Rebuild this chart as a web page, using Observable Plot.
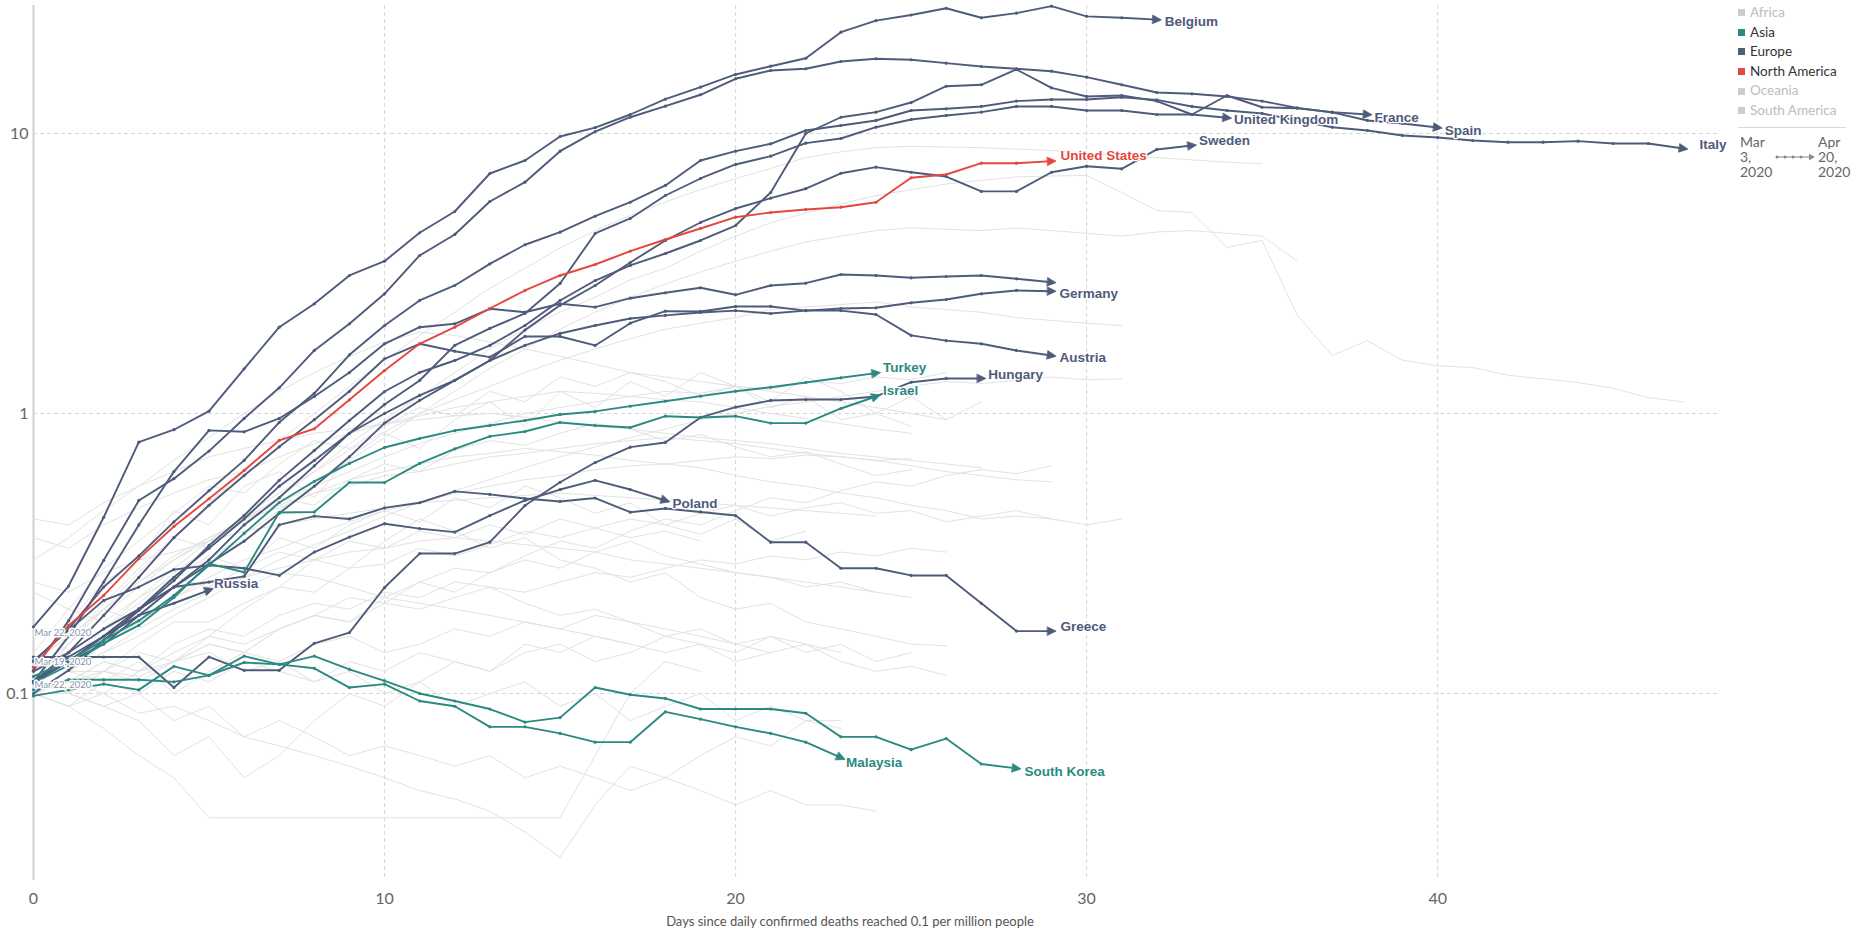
<!DOCTYPE html>
<html><head><meta charset="utf-8">
<script src="https://cdn.jsdelivr.net/npm/d3@7"></script>
<script src="https://cdn.jsdelivr.net/npm/@observablehq/plot@0.6"></script>
<style>
html,body{margin:0;padding:0;background:#fff;overflow:hidden}
#wrap{position:relative;width:1856px;height:936px;font-family:Lato,"Open Sans",sans-serif}
#legend{position:absolute;left:1738px;top:3px;font-size:13.5px;line-height:19.6px}
#legend .it{display:flex;align-items:center;white-space:nowrap}
#legend .sw{width:7px;height:7px;margin-right:5px;display:inline-block}
#sep{position:absolute;left:1738px;top:127px;width:108px;height:1px;background:#d8d8d8}
.dt{position:absolute;top:134px;font-size:14px;line-height:15px;color:#666}
#xtitle{position:absolute;left:600px;width:500px;top:913px;text-align:center;font-size:13px;color:#555}
</style></head>
<body><div id="wrap"></div>
<script>
// ---- data: days since 0.1 daily deaths per million, value = daily deaths per million ----
const belgium = [0.173,0.242,0.426,0.790,0.875,1.019,1.444,2.033,2.465,3.111,3.499,4.420,5.265,7.197,8.008,9.757,10.50,11.69,13.26,14.64,16.25,17.39,18.57,23.0,25.3,26.5,28.0,25.9,26.9,28.5,26.2,25.9,25.5];
const spain = [0.121,0.182,0.299,0.489,0.585,0.734,0.960,1.235,1.679,2.091,2.676,3.667,4.359,5.717,6.701,8.646,10.16,11.43,12.52,13.75,15.68,16.79,17.03,18.08,18.49,18.34,17.83,17.35,17.03,16.69,15.89,14.93,14.01,13.86,13.56,13.05,12.35,11.89,11.13,10.86,10.50];
const france = [0.100,0.121,0.155,0.198,0.253,0.338,0.432,0.577,0.738,0.944,1.198,1.401,1.546,1.750,2.062,2.533,2.985,3.378,3.727,4.148,4.692,6.155,10.0,11.43,11.92,12.90,14.75,14.93,16.93,14.56,13.56,13.67,13.05,11.69,13.67,12.41,12.31,11.92,11.69];
const italy = [0.13,0.17,0.24,0.31,0.41,0.53,0.68,0.93,1.18,1.62,2.062,2.533,2.865,3.424,4.005,4.441,5.064,5.682,6.522,8.008,8.646,9.189,10.25,10.68,11.13,12.08,12.25,12.49,13.05,13.22,13.22,13.48,13.18,12.49,12.08,11.79,11.13,10.53,10.25,9.84,9.676,9.441,9.310,9.310,9.39,9.211,9.211,8.84];
const unitedKingdom = [0.11,0.13,0.15,0.19,0.24,0.30,0.40,0.50,0.65,0.85,1.077,1.312,1.750,2.012,2.276,2.913,4.394,4.972,6.006,6.907,7.75,8.297,9.235,9.597,10.53,11.22,11.60,11.92,12.49,12.49,12.08,12.08,11.69,11.69,11.38];
const sweden = [0.11,0.13,0.16,0.20,0.24,0.29,0.35,0.44,0.55,0.70,0.924,1.113,1.313,1.546,1.985,2.434,2.865,3.462,4.148,4.810,5.396,5.873,6.35,7.21,7.58,7.27,7.02,6.21,6.21,7.27,7.64,7.48,8.77,9.06];
const germany = [0.11,0.13,0.16,0.20,0.26,0.33,0.42,0.55,0.68,0.85,1.0,1.160,1.313,1.546,1.750,1.931,2.062,2.184,2.24,2.295,2.331,2.276,2.331,2.371,2.385,2.485,2.553,2.676,2.750,2.734];
const switzerland = [0.11,0.16,0.25,0.40,0.62,0.87,0.86,0.96,1.15,1.40,1.774,2.033,2.091,2.365,2.300,2.465,2.397,2.581,2.698,2.811,2.654,2.865,2.920,3.136,3.111,3.052,3.085,3.111,3.027,2.943];
const austria = [0.11,0.14,0.19,0.26,0.36,0.47,0.60,0.76,0.95,1.20,1.568,1.774,1.669,1.589,1.884,1.884,1.750,2.101,2.319,2.314,2.411,2.411,2.331,2.331,2.257,1.90,1.82,1.774,1.679,1.611];
const hungary = [0.135,0.135,0.135,0.135,0.105,0.135,0.121,0.121,0.151,0.165,0.239,0.316,0.316,0.347,0.469,0.568,0.668,0.758,0.788,0.968,1.053,1.113,1.122,1.122,1.150,1.293,1.334,1.334];
const poland = [0.131,0.168,0.215,0.240,0.277,0.287,0.280,0.264,0.320,0.362,0.404,0.388,0.377,0.432,0.489,0.535,0.577,0.535,0.489];
const greece = [0.120,0.140,0.170,0.200,0.240,0.250,0.262,0.400,0.430,0.420,0.460,0.480,0.527,0.514,0.497,0.485,0.499,0.444,0.458,0.445,0.432,0.347,0.347,0.280,0.280,0.264,0.264,0.210,0.167,0.167];
const russia = [0.11,0.135,0.16,0.19,0.21,0.234];
const turkey = [0.115,0.131,0.155,0.182,0.224,0.287,0.373,0.481,0.572,0.663,0.756,0.814,0.869,0.906,0.944,0.992,1.017,1.062,1.106,1.153,1.201,1.241,1.290,1.341,1.393];
const israel = [0.109,0.126,0.151,0.175,0.220,0.291,0.271,0.443,0.445,0.567,0.567,0.663,0.748,0.828,0.862,0.929,0.906,0.891,0.978,0.968,0.978,0.924,0.924,1.042,1.150];
const malaysia = [0.098,0.103,0.108,0.103,0.125,0.116,0.129,0.127,0.123,0.105,0.108,0.094,0.090,0.076,0.076,0.072,0.067,0.067,0.086,0.081,0.076,0.072,0.067,0.059];
const southKorea = [0.103,0.112,0.112,0.112,0.110,0.116,0.136,0.127,0.136,0.122,0.111,0.100,0.094,0.088,0.079,0.082,0.105,0.099,0.096,0.088,0.088,0.088,0.085,0.070,0.070,0.063,0.069,0.056,0.054];
const unitedStates = [0.124,0.175,0.224,0.303,0.395,0.496,0.626,0.801,0.882,1.119,1.424,1.774,2.033,2.371,2.750,3.111,3.405,3.799,4.182,4.579,5.024,5.222,5.352,5.454,5.682,6.947,7.138,7.833,7.833,7.964];

const hiNames = ["Belgium","Spain","France","Italy","United Kingdom","Sweden","Germany","Switzerland","Austria","Hungary","Poland","Greece","Russia","Turkey","Israel","Malaysia","South Korea","United States"];
const hiContinents = ["Europe","Europe","Europe","Europe","Europe","Europe","Europe","Europe","Europe","Europe","Europe","Europe","Europe","Asia","Asia","Asia","Asia","North America"];
const hiSeries = [belgium,spain,france,italy,unitedKingdom,sweden,germany,switzerland,austria,hungary,poland,greece,russia,turkey,israel,malaysia,southKorea,unitedStates];

// other (not highlighted) countries
const netherlands = [0.12,0.15,0.20,0.27,0.36,0.48,0.62,0.80,1.0,1.25,1.55,1.9,2.3,2.8,3.3,3.9,4.5,5.1,5.7,6.3,6.9,7.5,8.2,8.6,8.9,9.0,8.95,8.9,8.8,8.7,8.5,8.35,8.2,8.05,7.9,7.8];
const ireland = [0.11,0.14,0.17,0.21,0.27,0.33,0.42,0.50,0.62,0.78,0.95,1.15,1.4,1.7,2.0,2.3,2.6,3.0,3.3,3.8,4.3,4.8,5.2,5.6,6.0,6.3,6.6,6.8,7.0,7.05,7.08,6.16,5.31,5.22,3.92,4.15,2.24,1.61,1.82,1.55,1.48,1.46,1.37,1.33,1.29,1.23,1.14,1.10];
const portugal = [0.10,0.12,0.15,0.19,0.24,0.30,0.37,0.45,0.55,0.68,0.82,1.0,1.2,1.45,1.7,2.0,2.3,2.6,2.9,3.2,3.5,3.8,4.1,4.3,4.5,4.6,4.55,4.5,4.6,4.5,4.4,4.3,4.45,4.5,4.4,4.3,3.5];
const denmark = [0.11,0.13,0.17,0.22,0.28,0.35,0.43,0.52,0.62,0.74,0.86,1.0,1.12,1.25,1.4,1.55,1.7,1.85,2.0,2.1,2.2,2.35,2.4,2.45,2.5,2.4,2.35,2.3,2.2,2.15,2.1,2.06];
const canada = [0.10,0.12,0.14,0.16,0.19,0.22,0.26,0.30,0.34,0.38,0.43,0.48,0.53,0.58,0.64,0.70,0.76,0.82,0.88,0.95,1.0,1.06,1.1,1.15,1.2,1.25,1.3,1.28,1.31,1.35,1.32,1.33];
const romania = [0.10,0.12,0.12,0.15,0.18,0.18,0.21,0.24,0.23,0.28,0.29,0.33,0.31,0.34,0.38,0.36,0.39,0.42,0.40,0.44,0.47,0.43,0.46,0.48,0.44,0.45,0.41,0.43,0.45,0.42,0.40,0.42];
const brazil = [0.10,0.11,0.13,0.12,0.15,0.17,0.16,0.19,0.21,0.20,0.23,0.22,0.25,0.24,0.21,0.19,0.20,0.18,0.17,0.16,0.15,0.14,0.15,0.13,0.12,0.125,0.116];
const ecuador = [0.11,0.10,0.12,0.14,0.13,0.16,0.20,0.24,0.30,0.28,0.35,0.42,0.38,0.33,0.36,0.30,0.28,0.25,0.27,0.22,0.20,0.21,0.18,0.17,0.16,0.15,0.148];
const peru = [0.10,0.10,0.12,0.11,0.13,0.15,0.14,0.17,0.19,0.18,0.22,0.25,0.23,0.27,0.30,0.28,0.32,0.35,0.31,0.29,0.27,0.26,0.24,0.25,0.23,0.22];
const algeria = [0.10,0.09,0.075,0.06,0.05,0.036,0.036,0.036,0.036,0.036,0.036,0.036,0.036,0.036,0.036,0.036,0.06,0.10,0.13,0.12];
const mexico = [0.10,0.11,0.10,0.12,0.13,0.15,0.14,0.17,0.19,0.22,0.21,0.25,0.28,0.27,0.31,0.35,0.33,0.38,0.42,0.40,0.45,0.50,0.48,0.53,0.57,0.55,0.60,0.63,0.61,0.65];
const panama = [0.12,0.18,0.25,0.30,0.45,0.40,0.55,0.62,0.50,0.70,0.85,0.75,0.95,1.1,0.9,1.2,1.05,1.3,1.15,1.4,1.25,1.1,1.35,1.2,1.0,1.15,0.95,1.1];
const dominicanRepublic = [0.11,0.15,0.21,0.28,0.36,0.33,0.42,0.50,0.47,0.58,0.66,0.62,0.74,0.80,0.77,0.85,0.92,0.88,0.80,0.84,0.76,0.70,0.73,0.66,0.60,0.63];
const iran = [0.13,0.16,0.20,0.25,0.31,0.36,0.42,0.46,0.52,0.55,0.60,0.62,0.66,0.70,0.72,0.75,0.78,0.80,0.82,0.80,0.78,0.75,0.72,0.70,0.68,0.65,0.62,0.60,0.58,0.57];
const indonesia = [0.10,0.09,0.11,0.10,0.12,0.11,0.13,0.12,0.11,0.13,0.12,0.14,0.13,0.12,0.14,0.15,0.13,0.14,0.16,0.15,0.14,0.16,0.15,0.14];
const philippines = [0.10,0.12,0.11,0.13,0.10,0.12,0.14,0.13,0.11,0.12,0.10,0.11,0.09,0.10,0.11,0.09,0.10,0.08,0.09,0.10,0.08,0.09,0.08,0.08];
const norway = [0.11,0.14,0.19,0.24,0.30,0.36,0.41,0.47,0.52,0.58,0.62,0.66,0.70,0.72,0.75,0.73,0.71,0.68,0.66,0.64,0.60,0.57,0.55,0.52,0.50,0.47,0.45,0.42,0.43,0.42];
const finland = [0.10,0.12,0.15,0.18,0.22,0.26,0.30,0.33,0.37,0.41,0.45,0.48,0.52,0.55,0.58,0.60,0.63,0.65,0.66,0.68,0.70,0.69,0.71,0.70,0.68,0.69];
const czechia = [0.10,0.12,0.14,0.17,0.20,0.23,0.26,0.28,0.30,0.32,0.33,0.35,0.36,0.35,0.34,0.33,0.32,0.30,0.29,0.28,0.27,0.26,0.25,0.24,0.23];
const luxembourg = [0.30,0.36,0.45,0.55,0.68,0.82,1.0,1.2,1.4,1.6,1.8,1.95,1.9,1.8,1.7,1.6,1.5,1.4,1.35,1.3,1.25,1.2,1.15,1.1,1.05,1.0,0.95];
const slovenia = [0.42,0.40,0.48,0.55,0.62,0.70,0.75,0.80,0.85,0.88,0.92,0.95,0.98,1.0,0.97,0.93,0.90,0.88,0.85,0.82,0.80,0.78,0.75,0.72,0.70,0.68,0.66,0.64];
const estonia = [0.36,0.33,0.40,0.46,0.52,0.58,0.62,0.70,0.78,0.85,0.92,0.98,1.05,1.1,1.15,1.2,1.18,1.15,1.12,1.1,1.05,1.0,0.96,0.92,0.88,0.85];
const serbia = [0.25,0.23,0.27,0.30,0.32,0.35,0.38,0.40,0.42,0.44,0.46,0.48,0.49,0.50,0.51,0.52,0.51,0.50,0.49,0.48,0.47,0.46,0.45,0.44,0.43];
const croatia = [0.23,0.20,0.18,0.22,0.26,0.24,0.28,0.32,0.30,0.35,0.33,0.38,0.36,0.40,0.37,0.42,0.39,0.36,0.38,0.35];
const bulgaria = [0.11,0.10,0.09,0.08,0.06,0.07,0.05,0.06,0.08,0.10,0.09,0.11,0.13,0.12,0.15,0.14,0.16,0.15];
const egypt = [0.10,0.09,0.10,0.085,0.09,0.08,0.07,0.065,0.06,0.055,0.05,0.045,0.042,0.038,0.032,0.026,0.04,0.055,0.05,0.06,0.07,0.065,0.08,0.075];
const southAfrica = [0.10,0.11,0.12,0.115,0.13,0.14,0.12,0.13,0.15,0.16,0.14,0.15,0.17,0.16,0.18,0.17,0.19,0.18,0.16,0.17,0.15,0.16,0.14,0.15,0.13,0.14];
const australia = [0.11,0.10,0.09,0.10,0.08,0.09,0.07,0.08,0.07,0.06,0.065,0.06,0.055,0.06,0.05,0.055,0.05,0.045,0.05,0.045,0.04,0.045,0.04,0.04,0.038];
const chile = [0.10,0.11,0.13,0.12,0.14,0.16,0.15,0.17,0.19,0.18,0.21,0.20,0.22,0.24,0.23,0.25,0.27,0.26,0.28,0.30,0.29,0.31,0.30,0.32,0.31,0.33,0.32];
const morocco = [0.11,0.13,0.16,0.18,0.22,0.25,0.24,0.27,0.26,0.24,0.22,0.21,0.20,0.19,0.18,0.17,0.16,0.15,0.14,0.15,0.13,0.14];
const lithuania = [0.10,0.15,0.20,0.18,0.26,0.31,0.28,0.36,0.33,0.40,0.45,0.41,0.50,0.46,0.55,0.50,0.44,0.48,0.40,0.37,0.42,0.35,0.38];
const moldova = [0.13,0.16,0.20,0.25,0.30,0.35,0.42,0.48,0.55,0.62,0.70,0.78,0.85,0.92,1.0,1.05,1.1,1.15,1.2,1.18,1.25,1.22,1.3,1.28,1.35,1.32,1.4];
const northMacedonia = [0.14,0.20,0.28,0.35,0.44,0.55,0.52,0.66,0.80,0.75,0.90,1.05,0.98,1.2,1.1,1.35,1.25,1.4,1.3,1.15,1.25,1.05,1.15,0.95,1.0,0.9];

const otherNames = ["Netherlands","Ireland","Portugal","Denmark","Canada","Romania","Brazil","Ecuador","Peru","Algeria","Mexico","Panama","Dominican Republic","Iran","Indonesia","Philippines","Norway","Finland","Czechia","Luxembourg","Slovenia","Estonia","Serbia","Croatia","Bulgaria","Egypt","South Africa","Australia","Chile","Morocco","Lithuania","Moldova","North Macedonia"];
const otherSeries = [netherlands,ireland,portugal,denmark,canada,romania,brazil,ecuador,peru,algeria,mexico,panama,dominicanRepublic,iran,indonesia,philippines,norway,finland,czechia,luxembourg,slovenia,estonia,serbia,croatia,bulgaria,egypt,southAfrica,australia,chile,morocco,lithuania,moldova,northMacedonia];

const continentNames = ["Africa","Asia","Europe","North America","Oceania","South America"];
const continentActive = [false,true,true,true,false,false];
const continentColors = ["#cccccc","#2b8a80","#4e5b7b","#e4473f","#cccccc","#cccccc"];

const yTicks = [0.1, 1, 10];
const xTicks = [0, 10, 20, 30, 40];

// start-date annotations on the y axis
const startLabels = ["Mar 22, 2020","Mar 19, 2020","Mar 22, 2020"];
const startLabelValues = [0.165, 0.130, 0.107];

// end labels: which countries get a visible label
const labelCountries = ["Belgium","United Kingdom","France","Spain","Italy","Sweden","United States","Germany","Austria","Hungary","Turkey","Israel","Poland","Greece","Malaysia","South Korea","Russia"];

// ---- build tables ----
const colorOf = c => continentColors[continentNames.indexOf(c)];
const hiRows = hiNames.flatMap((name, i) => hiSeries[i].map((v, d) => ({country: name, day: d, value: v, color: colorOf(hiContinents[i])})));
const otherRows = otherNames.flatMap((name, i) => otherSeries[i].map((v, d) => ({country: name, day: d, value: v})));
const lastRow = name => { const i = hiNames.indexOf(name); const s = hiSeries[i]; return {country: name, day: s.length - 1, value: s[s.length - 1], color: colorOf(hiContinents[i])}; };

// label offsets (px), tuned to the layout
const labelOffset = {
  "Belgium":[8,2], "United Kingdom":[7,2], "France":[7,3], "Spain":[7,3], "Italy":[16,-4],
  "Sweden":[7,-5], "United States":[9,-6], "Germany":[8,2], "Austria":[8,2], "Hungary":[7,-4],
  "Turkey":[7,-6], "Israel":[7,-6], "Poland":[7,3], "Greece":[9,-4], "Malaysia":[5,5],
  "South Korea":[8,3], "Russia":[5,-6]
};

const layer = ["Switzerland","Sweden","Austria","Germany","Hungary","Poland","Greece","Russia","Belgium","Spain","France","Italy","United Kingdom","Turkey","Israel","Malaysia","South Korea","United States"];
const orderedHi = layer.flatMap(n => hiRows.filter(r => r.country === n));

const labelMarks = labelCountries.map(n => {
  const r = lastRow(n); const [dx, dy] = labelOffset[n];
  return Plot.text([r], {x: "day", y: "value", text: d => d.country, dx, dy, fill: r.color,
    textAnchor: "start", fontSize: 13.5, fontWeight: "bold", fontFamily: "'Liberation Sans', Arial, sans-serif",
    stroke: "white", strokeWidth: 2.5, paintOrder: "stroke"});
});

const startRows = startLabels.map((t, i) => ({text: t, value: startLabelValues[i]}));

const svg = Plot.plot({
  width: 1856, height: 936,
  marginLeft: 33, marginRight: 138, marginTop: 5, marginBottom: 56,
  style: {fontFamily: "Lato, sans-serif", fontSize: "16px", color: "#666", background: "white"},
  x: {domain: [0, 48]},
  y: {type: "log", domain: [0.02148, 28.65]},
  color: {type: "identity"},
  marks: [
    Plot.ruleY(yTicks, {stroke: "#d6d6d6", strokeDasharray: "4,3"}),
    Plot.ruleX(xTicks.filter(t => t > 0), {stroke: "#d6d6d6", strokeDasharray: "4,3"}),
    Plot.ruleX([0], {stroke: "#d0d0d0", strokeWidth: 2}),
    Plot.axisY(yTicks, {tickSize: 0, tickPadding: 5, tickFormat: d => String(d), label: null, fontSize: 16}),
    Plot.axisX(xTicks, {tickSize: 0, tickPadding: 12, label: null, fontSize: 16}),
    Plot.line(otherRows, {x: "day", y: "value", z: "country", stroke: "#e2e2e2", strokeWidth: 1}),
    Plot.line(orderedHi, {x: "day", y: "value", z: "country", stroke: "color", strokeWidth: 1.9, markerEnd: "arrow"}),
    Plot.dot(orderedHi, {x: "day", y: "value", r: 1.6, fill: "color"}),
    Plot.text(startRows, {x: () => 0, y: "value", text: "text", textAnchor: "start", dx: 1, fontSize: 9.5,
      fill: "#8a93aa", stroke: "white", strokeWidth: 3, paintOrder: "stroke"}),
    ...labelMarks
  ]
});

// filled triangle arrowheads
svg.querySelectorAll("marker").forEach(m => {
  const c = m.getAttribute("stroke");
  m.setAttribute("fill", c);
  m.setAttribute("stroke-width", "0.6");
  const p = m.querySelector("path");
  if (p) p.setAttribute("d", "M-3.2,-3.3L3.6,0L-3.2,3.3Z");
});

const wrap = document.getElementById("wrap");
wrap.appendChild(svg);

// legend
const legend = document.createElement("div");
legend.id = "legend";
continentNames.forEach((c, i) => {
  const it = document.createElement("div");
  it.className = "it";
  it.style.color = continentActive[i] ? "#333" : "#bdbdbd";
  it.innerHTML = `<span class="sw" style="background:${continentColors[i]}"></span>${c}`;
  legend.appendChild(it);
});
wrap.appendChild(legend);
const sep = document.createElement("div"); sep.id = "sep"; wrap.appendChild(sep);
const d1 = document.createElement("div"); d1.className = "dt"; d1.style.left = "1740px"; d1.innerHTML = "Mar<br>3,<br>2020"; wrap.appendChild(d1);
const d2 = document.createElement("div"); d2.className = "dt"; d2.style.left = "1818px"; d2.innerHTML = "Apr<br>20,<br>2020"; wrap.appendChild(d2);
const tl = document.createElementNS("http://www.w3.org/2000/svg", "svg");
tl.setAttribute("width", "44"); tl.setAttribute("height", "10");
tl.style.position = "absolute"; tl.style.left = "1774px"; tl.style.top = "152px";
tl.innerHTML = `<line x1="3" y1="5" x2="36" y2="5" stroke="#888" stroke-width="1"/>` +
  [3, 11, 19, 27].map(x => `<circle cx="${x}" cy="5" r="1.5" fill="#888"/>`).join("") +
  `<path d="M35,1.8L41,5L35,8.2Z" fill="#888"/>`;
wrap.appendChild(tl);
const xt = document.createElement("div"); xt.id = "xtitle";
xt.textContent = "Days since daily confirmed deaths reached 0.1 per million people";
wrap.appendChild(xt);
</script>
</body></html>
